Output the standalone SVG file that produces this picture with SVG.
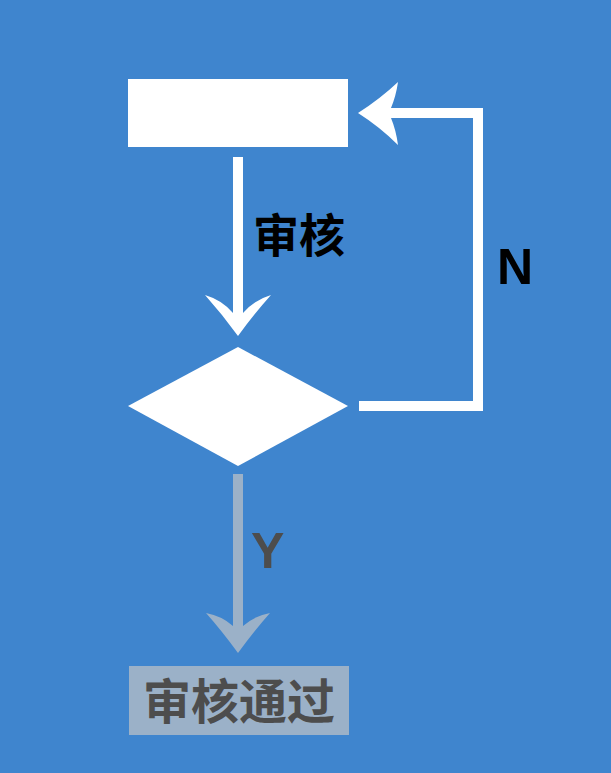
<svg xmlns="http://www.w3.org/2000/svg" width="611" height="773" viewBox="0 0 611 773">
<style>
.cjk{font-family:"Noto Sans CJK SC","Noto Sans",sans-serif;font-weight:bold}
.lat{font-family:"Liberation Sans",Arial,sans-serif;font-weight:bold;font-size:50px}
</style>
<rect x="0" y="0" width="611" height="773" fill="#3F85CE"/>
<g id="start"><rect x="128" y="79" width="220" height="68" fill="#FFFFFF"/></g>
<g id="decision"><polygon points="238,347 348,406 238,466 128,406" fill="#FFFFFF"/></g>
<g id="approved">
<rect x="129" y="666" width="220" height="69" fill="#9BB1C8"/>
<text class="cjk" x="239" y="719" font-size="48" fill="#4D4D4D" text-anchor="middle">审核通过</text>
</g>
<g id="connectors">
<path d="M233,157 L233,313 Q222,300 205,295 Q222,314 238,336 Q254,314 271,295 Q254,300 243,313 L243,157 Z" fill="#FFFFFF"/>
<text class="cjk" x="253" y="252" font-size="46" fill="#000000">审核</text>
<path d="M359,401 L473,401 L473,118 L391,118 Q396,130 398,145 Q380,127 358,113 Q380,99 398,82 Q396,96 391,108 L483,108 L483,411 L359,411 Z" fill="#FFFFFF"/>
<text class="lat" x="497" y="284" fill="#000000">N</text>
<path d="M233,474 L233,626 Q222,616 206,613 Q222,631 238,653 Q254,631 270,613 Q254,616 243,626 L243,474 Z" fill="#9BB1C8"/>
<text class="lat" x="251" y="568" fill="#4D4D4D">Y</text>
</g>
</svg>
